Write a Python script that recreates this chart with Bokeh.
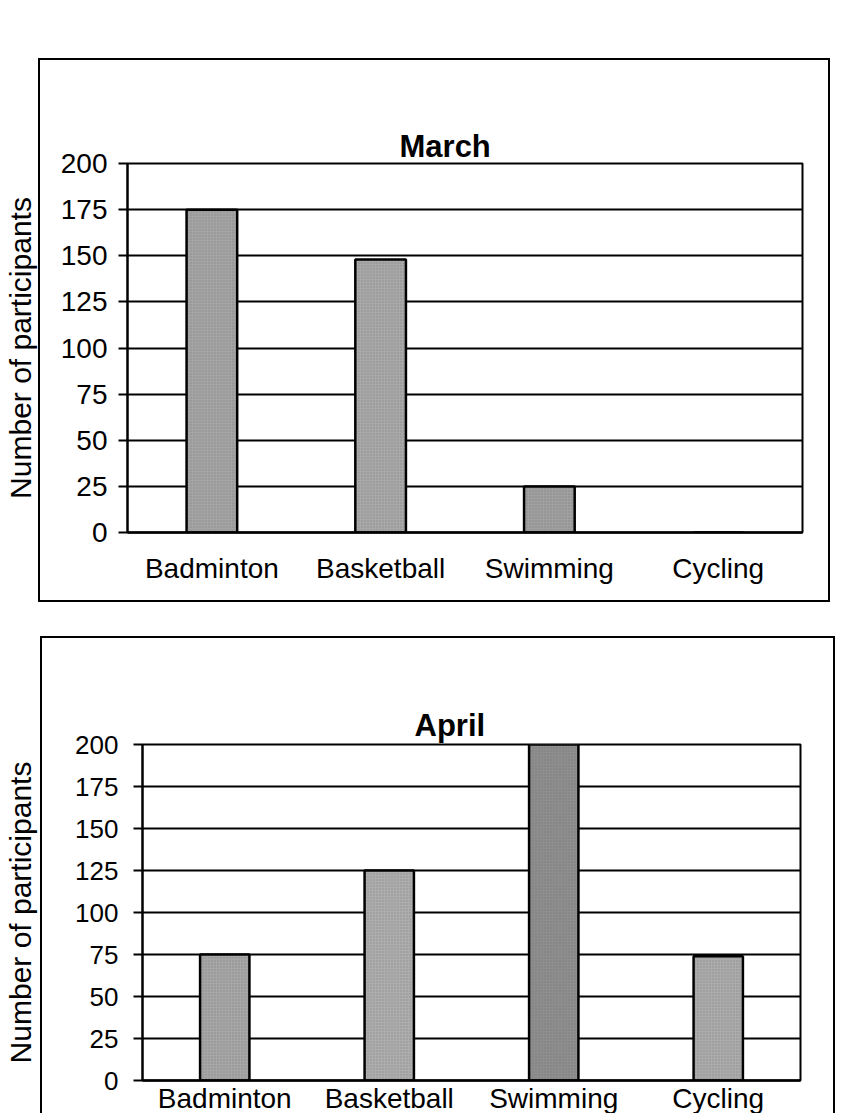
from bokeh.plotting import figure
from bokeh.layouts import column, row
from bokeh.models import FixedTicker, Range1d, ColumnDataSource, InlineStyleSheet
from bokeh.embed import file_html
from bokeh.resources import INLINE

# ---- data ----
sports = ["Badminton", "Basketball", "Swimming", "Cycling"]
march_values = [175, 148, 25, 0]
april_values = [75, 125, 200, 74]
y_ticks = [0, 25, 50, 75, 100, 125, 150, 175, 200]
y_title = "Number of participants"
chart_titles = ["March", "April"]

# ---- styles ----
march_colors = ["#a4a4a4", "#a8a8a8", "#a0a0a0", "#a4a4a4"]
april_colors = ["#a6a6a6", "#adadad", "#8e8e8e", "#ababab"]
FONT = "Liberation Sans"


def make_chart(title, values, colors, bl, br, bt, bb, fw, fh, box,
               tick_size, tick_standoff, ylab_standoff, xlab_standoff, title_offset, title_standoff):
    css = InlineStyleSheet(css=(
        ":host{position:relative;overflow:visible;}"
        ":host::after{content:'';position:absolute;left:%dpx;top:%dpx;width:%dpx;height:%dpx;"
        "border:2px solid black;box-sizing:border-box;pointer-events:none;}" % box))
    src = ColumnDataSource(dict(sport=sports, value=values, color=colors))
    p = figure(x_range=sports, y_range=Range1d(0, 200), frame_width=fw, frame_height=fh,
               output_backend="svg", toolbar_location=None, tools="",
               min_border_left=bl, min_border_right=br,
               min_border_top=bt, min_border_bottom=bb,
               background_fill_color="white", border_fill_color="white",
               outline_line_color="black", outline_line_width=2,
               stylesheets=[css])
    p.vbar(x="sport", top="value", width=0.3, source=src, fill_color="color",
           line_color="black", line_width=2.5,
           hatch_pattern="dot", hatch_color="#5e5e5e", hatch_alpha=0.4,
           hatch_scale=3, hatch_weight=1)

    p.title.text = title
    p.title.text_font = FONT
    p.title.text_font_style = "bold"
    p.title.text_font_size = "31px"
    p.title.align = "left"
    p.title.offset = title_offset
    p.title.standoff = title_standoff
    p.title.text_color = "black"

    p.xgrid.grid_line_color = None
    p.ygrid.grid_line_color = "black"
    p.ygrid.grid_line_width = 1.8
    p.yaxis.ticker = FixedTicker(ticks=y_ticks)
    p.yaxis.axis_line_color = "black"
    p.yaxis.axis_line_width = 2
    p.yaxis.major_tick_out = 9
    p.yaxis.major_tick_in = 0
    p.yaxis.major_tick_line_width = 2
    p.yaxis.minor_tick_line_color = None
    p.yaxis.major_label_standoff = tick_standoff
    p.yaxis.major_label_text_font = FONT
    p.yaxis.major_label_text_font_size = tick_size
    p.yaxis.major_label_text_color = "black"
    p.yaxis.axis_label = y_title
    p.yaxis.axis_label_text_font = FONT
    p.yaxis.axis_label_text_font_style = "normal"
    p.yaxis.axis_label_text_font_size = "30px"
    p.yaxis.axis_label_text_color = "black"
    p.yaxis.axis_label_standoff = ylab_standoff

    p.xaxis.axis_line_color = "black"
    p.xaxis.axis_line_width = 2.5
    p.xaxis.major_tick_out = 0
    p.xaxis.major_tick_in = 0
    p.xaxis.major_label_standoff = xlab_standoff
    p.xaxis.major_label_text_font = FONT
    p.xaxis.major_label_text_font_size = "28px"
    p.xaxis.major_label_text_color = "black"
    return p


p1 = make_chart(chart_titles[0], march_values, march_colors,
                125, 40, 163, 88, 675, 369, (38, 58, 792, 544),
                "28px", 11, 21, 20, 272, 0)
p2 = make_chart(chart_titles[1], april_values, april_colors,
                142, 40, 124, 33, 658, 336, (40, 16, 795, 520),
                "26px", 15, 35, 2, 272, 3)

layout = column(row(p1), row(p2), spacing=0)
open("out.html", "w").write(file_html(layout, INLINE))
